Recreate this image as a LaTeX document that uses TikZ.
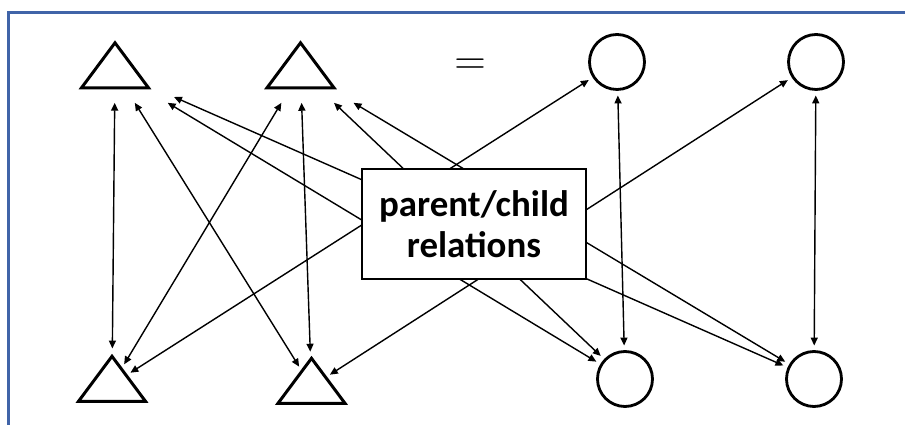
\documentclass[tikz,border=0pt]{standalone}
\usepackage{fontspec}
\setsansfont{Carlito}
\usetikzlibrary{shapes.geometric,arrows.meta}

\definecolor{framecol}{HTML}{4064A8}

\tikzset{
    tri/.style={isosceles triangle, isosceles triangle apex angle=74,
        isosceles triangle stretches, shape border rotate=90,
        minimum width=1.34cm, minimum height=0.9cm, inner sep=0pt,
        draw, line width=1.7pt, outer sep=0.3cm},
    circ/.style={circle, draw, line width=1.6pt, minimum size=1.1cm,
        inner sep=0pt, outer sep=0.12cm},
    link/.style={<->, >={Triangle[length=4.5pt,width=4pt]}, line width=0.8pt},
    relbox/.style={draw, fill=white, line width=0.8pt, minimum width=4.48cm,
        minimum height=2.2cm, inner sep=0pt, align=center,
        font=\sffamily\bfseries\fontsize{21}{23.3}\selectfont}
}

\begin{document}
\begin{tikzpicture}
        \useasboundingbox (0, 0) rectangle (18.1, 8.5);
        \clip (0, 0) rectangle (18.1, 8.5);
        \draw[framecol, line width=1.5pt] (0.17, -1) rectangle (19, 8.25);

        \node[tri] (tl1) at (2.3, 7.08) {};
        \node[tri] (tl2) at (6.01, 7.08) {};
        \node[tri, outer sep=0.1cm] (bl1) at (2.24, 0.81) {};
        \node[tri, outer sep=0.1cm] (bl2) at (6.23, 0.77) {};

        \node (eq) at (9.4, 7.16) {\fontsize{35}{36}\selectfont$=$};

        \node[circ] (c1) at (12.34, 7.26) {};
        \node[circ] (c2) at (16.32, 7.26) {};
        \node[circ] (c3) at (12.5, 0.92) {};
        \node[circ] (c4) at (16.28, 0.92) {};

        \draw[link] (tl1) -- (bl1);
        \draw[link] (tl1) -- (bl2);
        \draw[link] (tl1) -- (c3);
        \draw[link] (tl1) -- (c4);
        \draw[link] (tl2) -- (bl1);
        \draw[link] (tl2) -- (bl2);
        \draw[link] (tl2) -- (c3);
        \draw[link] (tl2) -- (c4);
        \draw[link] (c1) -- (bl1);
        \draw[link] (c1) -- (c3);
        \draw[link] (c2) -- (bl2);
        \draw[link] (c2) -- (c4);

        \node[relbox] (rel) at (9.48, 4.02) {parent/child\\relations};
    \end{tikzpicture}
\end{document}
